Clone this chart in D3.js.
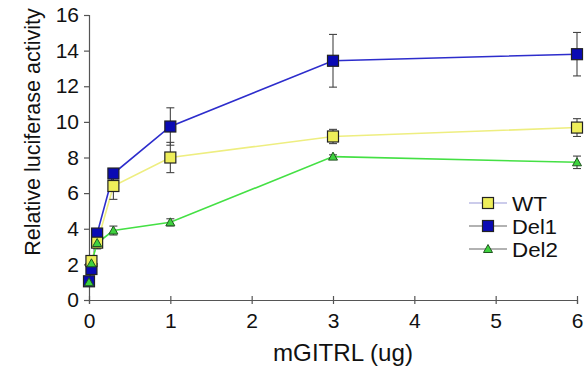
<!DOCTYPE html>
<html>
<head>
<meta charset="utf-8">
<script src="https://cdn.jsdelivr.net/npm/d3@7"></script>
<style>
  body { margin: 0; background: #fff; }
  svg text { font-family: "Liberation Sans", Arial, sans-serif; fill: #111; }
</style>
</head>
<body>
<div id="chart"></div>
<script>
// doses (ug) and measured activity per construct
const doses = [0, 0.03, 0.1, 0.3, 1, 3, 6];
const wtValues = [null, 2.19, 3.22, 6.4, 8.0, 9.18, 9.68];
const wtErrors = [null, 0.2, 0.35, 0.75, 0.85, 0.4, 0.5];
const del1Values = [1.05, 1.74, 3.73, 7.1, 9.74, 13.43, 13.8];
const del1Errors = [0.1, 0.2, 0.2, 0.2, 1.05, 1.48, 1.22];
const del2Values = [1.0, 2.06, 3.2, 3.9, 4.36, 8.05, 7.73];
const del2Errors = [0.05, 0.1, 0.2, 0.25, 0.2, 0.1, 0.35];
const xTicks = [0, 1, 2, 3, 4, 5, 6];
const yTicks = [0, 2, 4, 6, 8, 10, 12, 14, 16];

const width = 586, height = 368;
const svg = d3.select('#chart').append('svg')
  .attr('width', width)
  .attr('height', height);

const x = d3.scaleLinear().domain([0, 6]).range([89, 577]);
const y = d3.scaleLinear().domain([0, 16]).range([300, 15]);

// axes
const xAxis = svg.append('g')
  .attr('transform', 'translate(0,300)')
  .call(d3.axisBottom(x).tickValues(xTicks).tickSize(4).tickPadding(9).tickFormat(d3.format('d')));
xAxis.selectAll('.tick line').attr('y1', -4).attr('y2', 4);

const yAxis = svg.append('g')
  .attr('transform', 'translate(89,0)')
  .call(d3.axisLeft(y).tickValues(yTicks).tickSize(5).tickPadding(5).tickFormat(d3.format('d')));

[xAxis, yAxis].forEach(a => {
  a.select('.domain').attr('stroke', '#555').attr('stroke-width', 1.2);
  a.selectAll('.tick line').attr('stroke', '#555').attr('stroke-width', 1.2);
  a.selectAll('.tick text').attr('font-size', 21)
    .style('font-family', '"Liberation Sans", Arial, sans-serif').attr('fill', '#111');
});

svg.append('text')
  .attr('transform', 'translate(40,132) rotate(-90)')
  .attr('text-anchor', 'middle')
  .attr('font-size', 21.5)
  .text('Relative luciferase activity');

svg.append('text')
  .attr('x', 343)
  .attr('y', 361)
  .attr('text-anchor', 'middle')
  .attr('font-size', 24)
  .attr('textLength', 140)
  .attr('lengthAdjust', 'spacingAndGlyphs')
  .text('mGITRL (ug)');

const series = [
  { name: 'Del1', values: del1Values, errors: del1Errors, line: '#2d2dcc', fill: '#0a0ab4', shape: 'square', legendLine: '#666' },
  { name: 'WT', values: wtValues, errors: wtErrors, line: '#eeee80', fill: '#eeee5a', shape: 'square', legendLine: '#9a9ad8' },
  { name: 'Del2', values: del2Values, errors: del2Errors, line: '#44e044', fill: '#3ed23e', shape: 'triangle', legendLine: '#666' }
];

function pts(s) {
  return doses.map((d, i) => ({ x: d, v: s.values[i], e: s.errors[i] })).filter(p => p.v != null);
}

function drawMarker(g, s, cx, cy) {
  if (s.shape === 'square') {
    g.append('rect')
      .attr('x', cx - 5.5).attr('y', cy - 5.5)
      .attr('width', 11).attr('height', 11)
      .attr('fill', s.fill).attr('stroke', '#222').attr('stroke-width', 1.2);
  } else {
    g.append('path')
      .attr('d', `M${cx},${cy - 4.5} L${cx + 4.5},${cy + 3.5} L${cx - 4.5},${cy + 3.5} Z`)
      .attr('fill', s.fill).attr('stroke', '#225522').attr('stroke-width', 1);
  }
}

const line = d3.line().x(p => x(p.x)).y(p => y(p.v));

// lines and error bars first
series.forEach(s => {
  const p = pts(s);
  svg.append('path').datum(p)
    .attr('d', line)
    .attr('fill', 'none')
    .attr('stroke', s.line)
    .attr('stroke-width', 1.6);
  const eb = svg.append('g').attr('stroke', '#444').attr('stroke-width', 1.1);
  p.forEach(d => {
    const cx = x(d.x);
    eb.append('line').attr('x1', cx).attr('x2', cx).attr('y1', y(d.v - d.e)).attr('y2', y(d.v + d.e));
    [d.v - d.e, d.v + d.e].forEach(v => {
      eb.append('line').attr('x1', cx - 4).attr('x2', cx + 4).attr('y1', y(v)).attr('y2', y(v));
    });
  });
});

// markers on top
series.forEach(s => {
  const g = svg.append('g');
  pts(s).forEach(d => drawMarker(g, s, x(d.x), y(d.v)));
});

// legend
const legendOrder = ['WT', 'Del1', 'Del2'];
const legendWidths = [35, 45, 46];
legendOrder.forEach((name, i) => {
  const s = series.find(d => d.name === name);
  const ly = 203 + i * 23;
  const g = svg.append('g');
  g.append('line').attr('x1', 469).attr('x2', 507).attr('y1', ly).attr('y2', ly)
    .attr('stroke', s.legendLine).attr('stroke-width', 1.2);
  drawMarker(g, s, 488, ly);
  g.append('text').attr('x', 512).attr('y', ly + 8).attr('font-size', 20)
    .attr('textLength', legendWidths[i]).attr('lengthAdjust', 'spacingAndGlyphs')
    .text(name);
});
</script>
</body>
</html>
